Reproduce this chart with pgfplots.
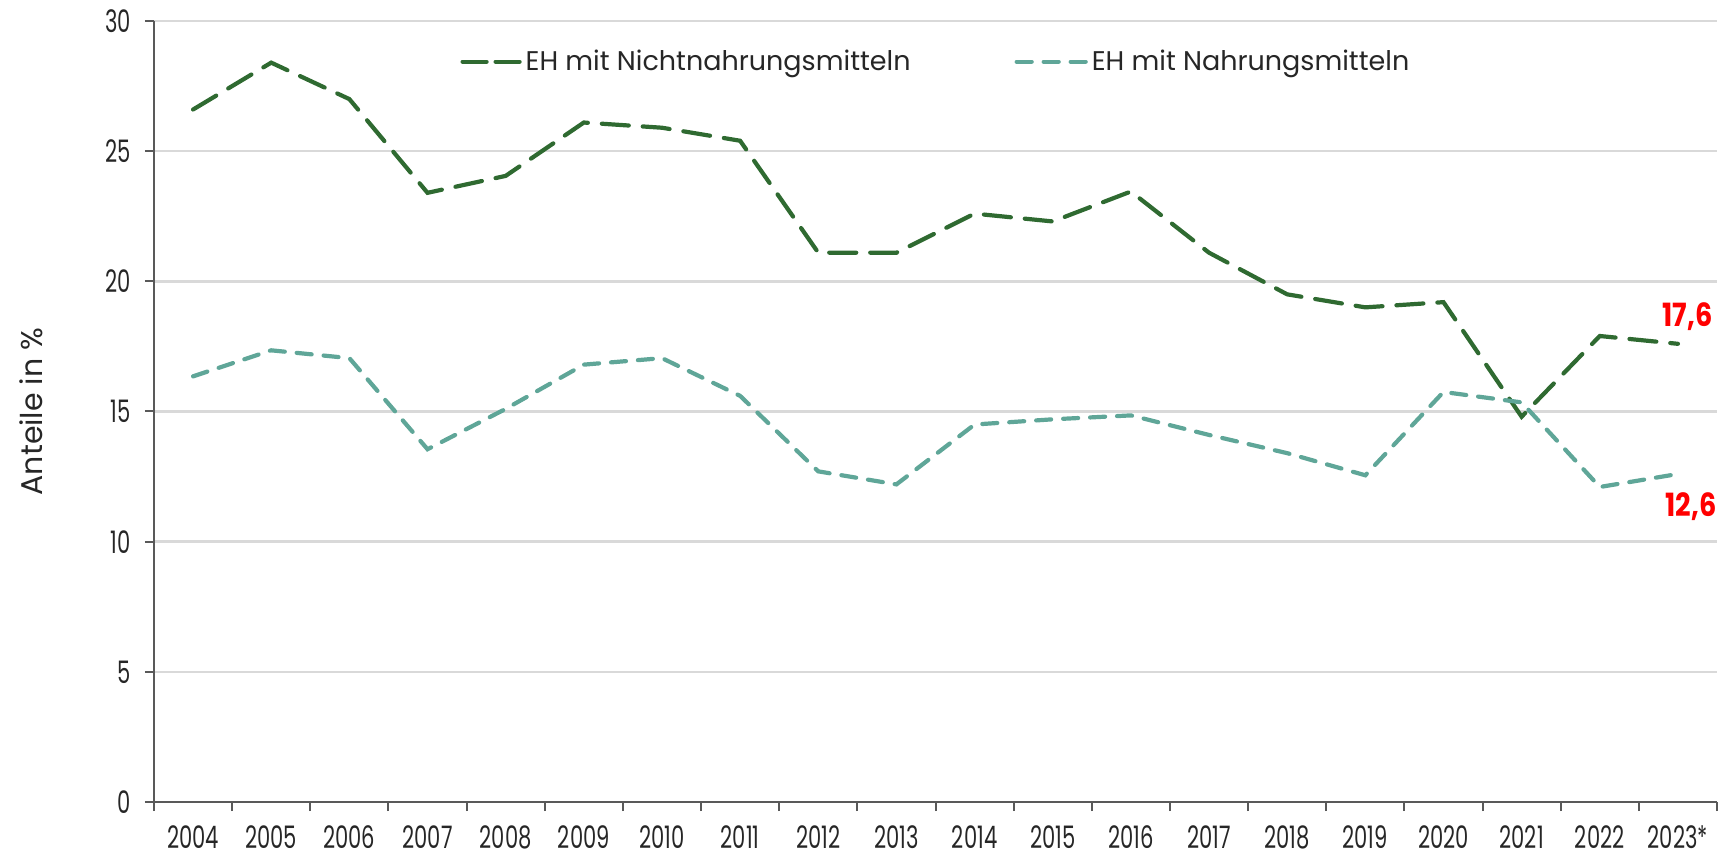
\documentclass[border=0pt]{standalone}
\usepackage{pgfplots}
\pgfplotsset{compat=1.18}
\usepackage{fontspec}
\setmainfont{Poppins}
\newfontfamily\ticksfont{Poppins}[FakeStretch=0.68]
\newfontfamily\labelfont{Poppins}[FakeStretch=0.85]

\definecolor{dgreen}{HTML}{2F6A31}
\definecolor{teal2}{HTML}{5FA698}
\definecolor{axgray}{HTML}{595959}
\definecolor{gridgray}{HTML}{D9D9D9}

\pgfplotsset{
    darkleg/.style={legend image code/.code={\draw[##1, dash pattern=on 12pt off 4.5pt] (0pt,0pt) -- (28.5pt,0pt);}},
    tealleg/.style={legend image code/.code={\draw[##1] (0pt,0pt) -- (34.5pt,0pt);}},
}

\pgfplotstableread{
x  nicht  nahr
0  26.6   16.35
1  28.4   17.35
2  27.0   17.05
3  23.4   13.55
4  24.05  15.1
5  26.1   16.8
6  25.9   17.05
7  25.4   15.6
8  21.1   12.7
9  21.1   12.2
10 22.6   14.5
11 22.3   14.7
12 23.45  14.85
13 21.1   14.1
14 19.5   13.4
15 19.0   12.55
16 19.2   15.75
17 14.8   15.35
18 17.9   12.1
19 17.6   12.6
}\datatable

\begin{document}
\begin{tikzpicture}
\begin{axis}[
    scale only axis,
    width=781.5pt, height=390.5pt,
    xmin=-0.5, xmax=19.5,
    ymin=0, ymax=30,
    axis lines=left,
    axis line style={draw=axgray, line width=1.2pt, -},
    xtick={-0.5,0.5,...,19.5},
    x tick label as interval,
    xticklabels={2004,2005,2006,2007,2008,2009,2010,2011,2012,2013,2014,2015,2016,2017,2018,2019,2020,2021,2022,2023*},
    ytick={0,5,...,30},
    tick align=outside,
    major tick length=4.5pt,
    tick style={draw=axgray, line width=1pt},
    ymajorgrids,
    grid style={draw=gridgray, line width=1.2pt},
    tick label style={font=\ticksfont\fontsize{15.5}{17}\selectfont, text=black!85},
    xticklabel style={yshift=-4pt},
    yticklabel style={xshift=-3.5pt},
    /pgf/number format/assume math mode=true,
    ylabel={Anteile in \%},
    every axis y label/.style={at={(axis description cs:0,0.5)}, anchor=center,
        xshift=-61.5pt, rotate=90, font=\fontsize{15}{17}\selectfont, text=black!85},
    legend style={draw=none, fill=none, at={(0.192,0.948)}, anchor=west,
        font=\fontsize{13.5}{15}\selectfont, text=black!85,
        /tikz/every even column/.append style={column sep=50pt}},
    legend columns=2,
    clip=false,
]
\addplot[dgreen, line width=2.1pt, line cap=round, dash pattern=on 13.5pt off 7pt, darkleg]
    table[x=x, y=nicht] {\datatable};
\addlegendentry{EH mit Nichtnahrungsmitteln}
\addplot[teal2, line width=2.1pt, line cap=round, dash pattern=on 7.5pt off 6pt, tealleg]
    table[x=x, y=nahr] {\datatable};
\addlegendentry{EH mit Nahrungsmitteln}
\node[font=\labelfont\bfseries\fontsize{16}{18}\selectfont, text=red, anchor=south east, inner sep=0pt]
    at (axis cs:19.5,18.1) [xshift=-2pt] {17,6};
\node[font=\labelfont\bfseries\fontsize{16}{18}\selectfont, text=red, anchor=north east, inner sep=0pt]
    at (axis cs:19.5,11.9) {12,6};
\coordinate (bl) at (rel axis cs:0,0);
\coordinate (tr) at (rel axis cs:1,1);
\end{axis}
\pgfresetboundingbox
\path ([xshift=-77pt,yshift=-27.5pt]bl) rectangle ([xshift=3.5pt,yshift=10.5pt]tr);
\end{tikzpicture}
\end{document}
